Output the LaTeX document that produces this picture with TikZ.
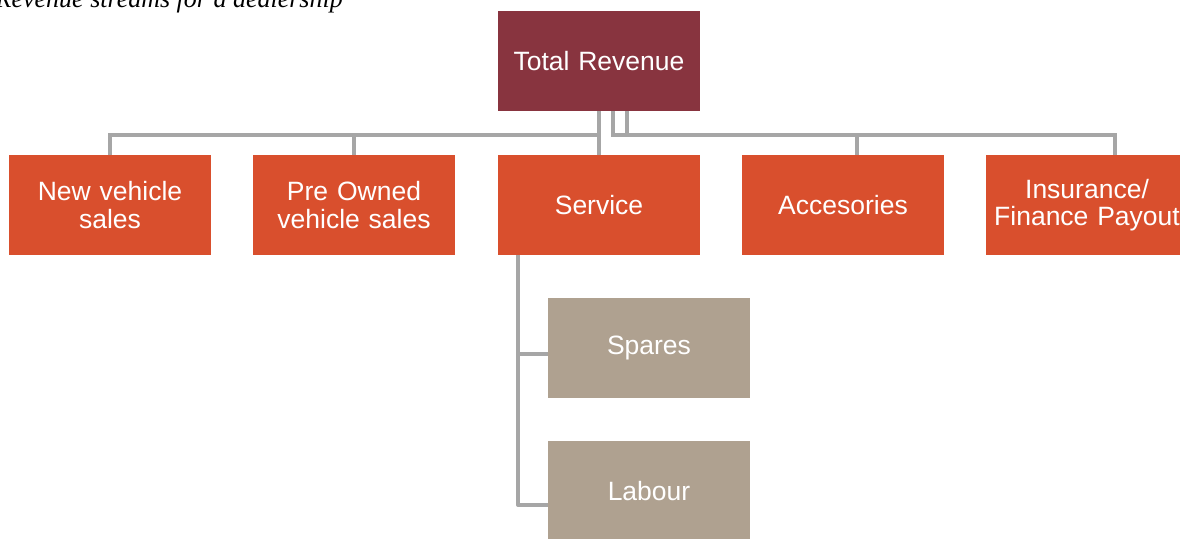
\documentclass[tikz,border=0pt]{standalone}
\usepackage{fontspec}
\setmainfont{Liberation Sans}
\newfontfamily\capfont{Liberation Serif}
\definecolor{topred}{HTML}{88343F}
\definecolor{orng}{HTML}{D94F2D}
\definecolor{taupe}{HTML}{AFA190}
\definecolor{conn}{HTML}{A6A6A6}
\begin{document}
\begin{tikzpicture}[x=1pt,y=-1pt,
  box/.style={minimum width=202pt,minimum height=100pt,inner sep=0pt,
    text width=200pt,align=center,text=white,
    font=\fontsize{26.5}{27.5}\selectfont},
  topbox/.style={box,fill=topred},
  midbox/.style={box,fill=orng},
  subbox/.style={box,fill=taupe},
  link/.style={draw=conn,line width=4pt}]
\useasboundingbox (0,0) rectangle (1180,538);
\node[anchor=base east,inner sep=0pt,font=\capfont\itshape\fontsize{26}{28}\selectfont] (cap) at (343,7) {Revenue streams for a dealership};
\node[topbox] (tr) at (599,61) {Total Revenue};
\node[midbox] (nv) at (110,205) {New vehicle\\sales};
\node[midbox] (po) at (354,205) {Pre Owned\\vehicle sales};
\node[midbox] (sv) at (599,205) {Service};
\node[midbox] (ac) at (843,205) {Accesories};
\node[midbox] (in) at (1087,205) {Insurance/\\Finance Payout};
\node[subbox] (sp) at (649,348) {Spares};
\node[subbox] (lb) at (649,491) {Labour};
\coordinate (bl) at (599,134.5);
\coordinate (acx) at ([xshift=14pt]ac.north);
\coordinate (inx) at ([xshift=28pt]in.north);
\coordinate (svl) at ([xshift=-81pt]sv.south);
\draw[link] (tr.south) -- (bl) -| (nv.north);
\draw[link] (tr.south) -- (bl) -| (po.north);
\draw[link] (tr.south) -- (sv.north);
\draw[link] ([xshift=14pt]tr.south) |- (acx |- bl) -- (acx);
\draw[link] ([xshift=28pt]tr.south) |- (inx |- bl) -- (inx);
\draw[link,line join=round] (svl) |- ([yshift=-6pt]sp.west);
\draw[link,line join=round] (svl) |- ([yshift=-14pt]lb.west);
\end{tikzpicture}
\end{document}
